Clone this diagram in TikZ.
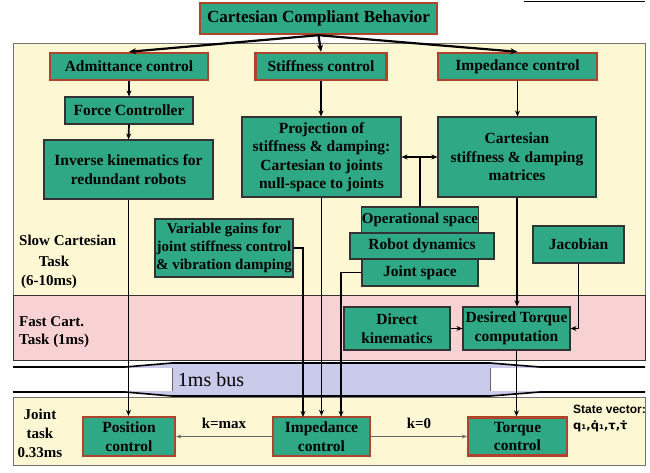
\documentclass[tikz,border=0pt]{standalone}
\usepackage[no-math]{fontspec}
\setmainfont{Liberation Serif}
\newfontfamily\svfont{Liberation Sans}
\newfontfamily\symfont{DejaVu Sans}
\usetikzlibrary{arrows.meta,calc}
\definecolor{boxg}{HTML}{2FA985}
\definecolor{redb}{HTML}{B0432B}
\definecolor{beige}{HTML}{FDF8D3}
\definecolor{pinkr}{HTML}{F8D2D2}
\definecolor{lav}{HTML}{CACAEA}
\begin{document}
\begin{tikzpicture}[x=1pt,y=-1pt,
  gbox/.style={draw=black!80, line width=1.1pt, fill=boxg, inner sep=0pt, align=center,
    font=\fontsize{15.5}{18.5}\selectfont\bfseries},
  rbox/.style={gbox, draw=redb, line width=2.4pt},
  conn/.style={line width=1.7pt, -{Stealth[length=6pt,width=5pt]}},
  thick arr/.style={line width=2.2pt, -{Stealth[length=7pt,width=6pt]}},
  gconn/.style={line width=1pt, black!60, -{Stealth[length=5pt,width=4pt]}},
  lbl/.style={inner sep=0pt, font=\fontsize{15}{17}\selectfont\bfseries},
  region/.style={line width=0.9pt}
]
\useasboundingbox[fill=white] (0,0) rectangle (650,472);

% artifact line top right
\draw[line width=1pt] (524,1) -- (645,1);

% regions
\draw[region, fill=beige, draw=black!55] (13,43) rectangle (645,295);
\draw[region, fill=pinkr, draw=black!80] (13,295) rectangle (645,360);
\draw[region, fill=beige, draw=black!55] (13,397) rectangle (645,465);

% bus
\fill[lav] (125,367) -- (172,363) -- (490,363) -- (540,367) -- (540,392) -- (490,396) -- (172,396) -- (125,392) -- cycle;
\fill[white] (13,368) rectangle (172,391);
\fill[white] (490,368) rectangle (645,391);
\draw[line width=1.6pt] (13,367) -- (125,367) -- (172,363) -- (490,363) -- (540,367) -- (645,367);
\draw[line width=1.6pt] (13,392) -- (125,392) -- (172,396) -- (490,396) -- (540,392) -- (645,392);
\draw[black!60, line width=1pt] (172,368) -- (172,391);
\draw[black!60, line width=1pt] (490,368) -- (490,391);
\node[inner sep=0pt, font=\fontsize{20}{22}\selectfont] (bus) at (211,380) {1ms bus};

% region labels
\node[lbl, anchor=west] (sl1) at (19,240) {Slow Cartesian};
\node[lbl] (sl2) at (54,261) {Task};
\node[lbl] (sl3) at (49,282) {(6-10ms)};
\node[lbl, anchor=west] (fa1) at (19,322) {Fast Cart.};
\node[lbl, anchor=west] (fa2) at (19,341) {Task (1ms)};
\node[lbl] (jo1) at (40,414) {Joint};
\node[lbl] (jo2) at (40,433) {task};
\node[lbl] (jo3) at (40,453) {0.33ms};

% boxes
\node[rbox, minimum width=237pt, minimum height=31pt, font=\fontsize{17}{19}\selectfont\bfseries] (title) at (318.5,18.5) {Cartesian Compliant Behavior};
\node[rbox, minimum width=158pt, minimum height=27pt] (adm) at (129,66.5) {Admittance control};
\node[rbox, minimum width=131pt, minimum height=27pt] (stf) at (321,66.5) {Stiffness control};
\node[rbox, minimum width=159pt, minimum height=27pt] (imp) at (517.5,66.5) {Impedance control};
\node[gbox, minimum width=128pt, minimum height=27pt] (force) at (129,110.5) {Force Controller};
\node[gbox, minimum width=169pt, minimum height=59pt] (inv) at (128.5,169.5) {Inverse kinematics for\\redundant robots};
\node[gbox, minimum width=159pt, minimum height=80pt] (proj) at (321.5,157) {Projection of\\stiffness \& damping:\\Cartesian to joints\\null-space to joints};
\node[gbox, minimum width=158pt, minimum height=80pt] (cart) at (517,157) {Cartesian\\stiffness \& damping\\matrices};
\node[gbox, minimum width=138pt, minimum height=58pt, font=\fontsize{15}{18}\selectfont\bfseries] (var) at (224,248) {Variable gains for\\joint stiffness control\\\& vibration damping};
\node[gbox, minimum width=116pt, minimum height=26pt, font=\fontsize{15}{18}\selectfont\bfseries] (ops) at (420,220) {Operational space};
\node[gbox, minimum width=116pt, minimum height=27pt] (jsp) at (420,272.5) {Joint space};
\node[gbox, minimum width=144pt, minimum height=26pt] (rdyn) at (422,246) {Robot dynamics};
\node[gbox, minimum width=91pt, minimum height=37pt] (jac) at (578.5,244.5) {Jacobian};
\node[gbox, minimum width=106pt, minimum height=43pt] (dk) at (397,328.5) {Direct\\kinematics};
\node[gbox, minimum width=107pt, minimum height=43pt] (dtc) at (516.5,328.5) {Desired Torque\\computation};
\node[rbox, minimum width=92pt, minimum height=39pt] (pos) at (129,436.5) {Position\\control};
\node[rbox, minimum width=97pt, minimum height=39pt] (impb) at (321.5,436.5) {Impedance\\control};
\node[rbox, minimum width=99pt, minimum height=38pt] (torq) at (517.5,436.5) {Torque\\control};

% state vector
\node[inner sep=0pt, anchor=west, font=\svfont\bfseries\fontsize{12}{14}\selectfont] (sv1) at (573,409) {State vector:};
\node[inner sep=0pt, anchor=west, font=\symfont\bfseries\fontsize{11.5}{14}\selectfont] (sv2) at (573,426) {q₁,q̇₁,τ,τ̇};

% connectors from title
\draw[thick arr] (title.south) -- (adm.north);
\draw[thick arr] (title.south) -- (stf.north);
\draw[thick arr] (title.south) -- (imp.north);

\draw[conn] (adm.south) -- (force.north);
\draw[conn] (force.south) -- (inv.north);
\draw[conn] (stf.south) -- (stf.south |- proj.north);
\draw[conn] (imp.south) -- (imp.south |- cart.north);
\draw[conn, {Stealth[length=6pt,width=5pt]}-{Stealth[length=6pt,width=5pt]}] (proj.east) -- (cart.west);
\draw[line width=1.7pt] (ops.north) -- (ops.north |- proj.east);

\draw[conn] (inv.south) -- (inv.south |- pos.north);
\coordinate (vx) at (303,417);
\draw[conn] (var.east) -| (vx);
\draw[conn] (proj.south) -- (impb.north);
\coordinate (jx) at (341,417);
\draw[conn] (jsp.west) -| (jx);

\draw[conn] (cart.south) -- (cart.south |- dtc.north);
\draw[conn] (dk.east) -- (dtc.west);
\draw[conn] (jac.south) |- (dtc.east);
\draw[conn] (dtc.south) -- (dtc.south |- torq.north);

\draw[gconn] (impb.west) -- node[above=4pt, black, font=\fontsize{15}{17}\selectfont\bfseries] (kmax) {k=max} (pos.east);
\draw[gconn] (impb.east) -- node[above=4pt, black, font=\fontsize{15}{17}\selectfont\bfseries] (kzero) {k=0} (torq.west);
\end{tikzpicture}
\end{document}
